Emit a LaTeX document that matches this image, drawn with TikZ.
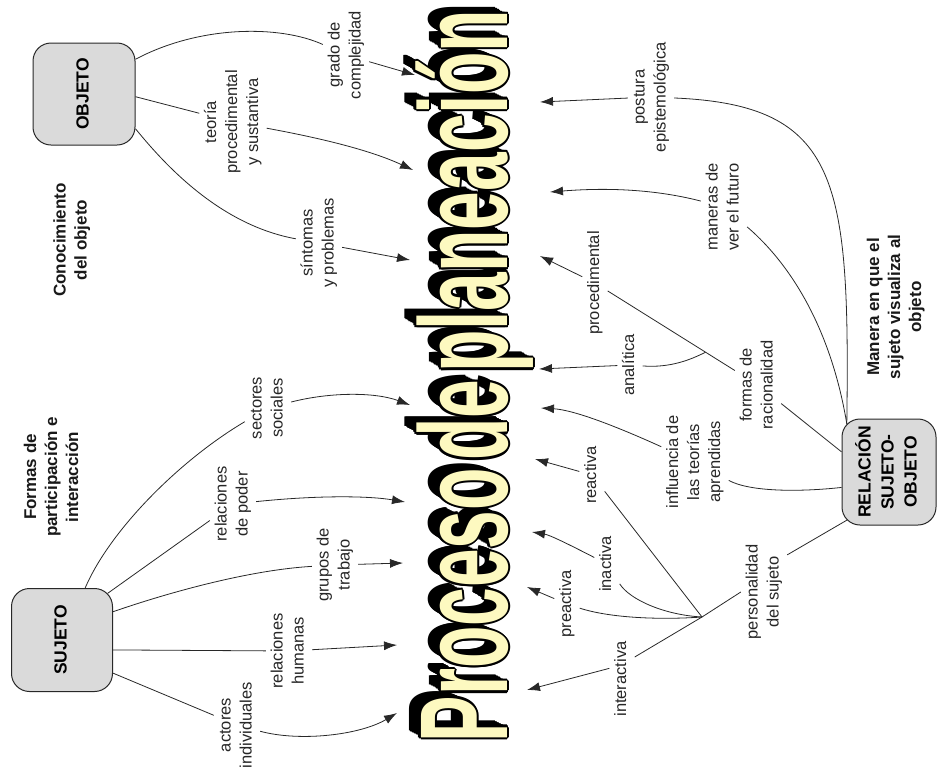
\documentclass[tikz,border=0pt]{standalone}
\usepackage{fontspec}
\setmainfont{Liberation Sans}
\usetikzlibrary{arrows.meta,calc}
\definecolor{boxgray}{RGB}{218,218,218}
\definecolor{ttlyellow}{RGB}{253,249,192}
\definecolor{ink}{RGB}{40,40,40}
\newcommand{\vlab}[1]{\rotatebox{90}{\begin{tabular}{@{}c@{}}#1\end{tabular}}}
\newcommand{\titletxt}{\fontsize{69.5}{69.5}\selectfont\bfseries\scalebox{1}[1.8]{Proceso\hspace{0.1em}de\hspace{0.1em}planeación}}
\begin{document}
\begin{tikzpicture}[x=1pt,y=-1pt,
  lbl/.style={inner sep=2pt, text=black!85, font=\fontsize{16.5}{21}\selectfont},
  ttl/.style={inner sep=2pt, text=black!90, font=\fontsize{17}{21}\selectfont\bfseries},
  cbox/.style={draw=ink, line width=1pt, fill=boxgray, rounded corners=18pt, inner sep=0pt, font=\fontsize{17.5}{23}\selectfont\bfseries},
  ln/.style={draw=ink, line width=0.8pt},
  arr/.style={ln, -{Latex[length=13pt,width=9pt]}},
  ttlnode/.style={rotate=90, anchor=base, inner sep=0pt}
]
\useasboundingbox (0,0) rectangle (938,780);

% ---- title with shadow and outline ----
\foreach \k in {1,...,12} {
  \node[ttlnode, text=black] at ($(507,376)+(-\k*1.0,-\k*0.55)$) {\titletxt};
}
\foreach \a in {0,45,...,315} {
  \node[ttlnode, text=black] at ($(507,376)+({2.2*cos(\a)},{2.2*sin(\a)})$) {\titletxt};
}
\node[ttlnode, text=ttlyellow] (title) at (507,376) {\titletxt};

% ---- boxes ----
\node[cbox, minimum width=102pt, minimum height=102pt] (objeto) at (84,94) {\vlab{OBJETO}};
\node[cbox, minimum width=101pt, minimum height=103pt] (sujeto) at (62,640) {\vlab{SUJETO}};
\node[cbox, minimum width=94pt, minimum height=106pt] (relacion) at (889,472) {\vlab{RELACIÓN\\SUJETO-\\OBJETO}};

% ---- headings ----
\node[ttl] (conoc) at (72,240) {\vlab{Conocimiento\\del objeto}};
\node[ttl] (formasp) at (53,477) {\vlab{Formas de\\participación e\\interacción}};
\node[ttl] (manera) at (896,307) {\vlab{Manera en que el\\sujeto visualiza al\\objeto}};

% ---- labels ----
\node[lbl] (grado) at (346,55) {\vlab{grado de\\complejidad}};
\node[lbl] (teoria) at (233,122) {\vlab{teoría\\procedimental\\y sustantiva}};
\node[lbl] (sintomas) at (319,243) {\vlab{síntomas\\y problemas}};
\node[lbl] (sectores) at (268,408) {\vlab{sectores\\sociales}};
\node[lbl] (poder) at (233,504) {\vlab{relaciones\\de poder}};
\node[lbl] (grupos) at (335,565) {\vlab{grupos de\\trabajo}};
\node[lbl] (humanas) at (289,651) {\vlab{relaciones\\humanas}};
\node[lbl] (actores) at (237,725) {\vlab{actores\\individuales}};
\node[lbl] (postura) at (651,97) {\vlab{postura\\epistemológica}};
\node[lbl] (maneras) at (724,207) {\vlab{maneras de\\ver el futuro}};
\node[lbl] (proced) at (595,283) {\vlab{procedimental}};
\node[lbl] (analitica) at (630,365) {\vlab{analítica}};
\node[lbl] (formas) at (758,385) {\vlab{formas de\\racionalidad}};
\node[lbl] (influencia) at (695,462) {\vlab{influencia de\\las teorías\\aprendidas}};
\node[lbl] (reactiva) at (592,475) {\vlab{reactiva}};
\node[lbl] (inactiva) at (607,564) {\vlab{inactiva}};
\node[lbl] (preactiva) at (567,604) {\vlab{preactiva}};
\node[lbl] (interactiva) at (622,679) {\vlab{interactiva}};
\node[lbl] (personalidad) at (764,592) {\vlab{personalidad\\del sujeto}};

% ---- arrow tips at the title ----
\coordinate (tgrado) at (415,75);
\coordinate (tteoria) at (413,170);
\coordinate (tsint) at (410,260);
\coordinate (tsect) at (410,405);
\coordinate (tpoder) at (405,502);
\coordinate (tgrupos) at (403,563);
\coordinate (thum) at (397,645);
\coordinate (tact) at (397,713);
\coordinate (tpost) at (540,102);
\coordinate (tman) at (550,192);
\coordinate (tproc) at (540,256);
\coordinate (tanal) at (539,369);
\coordinate (tinfl) at (541,408);
\coordinate (treac) at (535,459);
\coordinate (tinac) at (532,532);
\coordinate (tpre) at (527,587);
\coordinate (tinter) at (527,690);
\coordinate (jp) at (702,617);

% ---- OBJETO ----
\draw[ln] (objeto.34) .. controls (200,25) and (280,25) .. (grado);
\draw[arr] (grado) -- (tgrado);
\draw[ln] (objeto.-3) -- (teoria);
\draw[arr] (teoria) .. controls (320,138) and (370,150) .. (tteoria);
\draw[ln] (objeto.-34) .. controls (165,165) and (220,225) .. (sintomas);
\draw[arr] (sintomas) -- (tsint);

% ---- SUJETO ----
\draw[ln] (sujeto.66) .. controls (110,530) and (180,460) .. (sectores);
\draw[arr] (sectores) .. controls (330,392) and (375,392) .. (tsect);
\draw[ln] ($(sujeto.north east)+(-5.3,5.3)$) -- (poder);
\draw[arr] (poder) .. controls (320,495) and (370,496) .. (tpoder);
\draw[ln] (sujeto.29) .. controls (170,592) and (250,570) .. (grupos);
\draw[arr] (grupos) -- (tgrupos);
\draw[ln] (sujeto.-11) -- (humanas);
\draw[arr] (humanas) -- (thum);
\draw[ln] (sujeto.-33) -- (actores);
\draw[arr] (actores) .. controls (300,742) and (360,735) .. (tact);

% ---- RELACION ----
\draw[ln] ($(relacion.north west)+(5.3,5.3)$) .. controls (850,180) and (840,105) .. (postura);
\draw[arr] (postura) -- (tpost);
\draw[ln] ($(relacion.north west)+(5.3,5.3)$) .. controls (832,335) and (795,268) .. (maneras);
\draw[arr] (maneras) .. controls (650,188) and (600,188) .. (tman);
\draw[ln] (relacion.157) -- (formas);
\draw[ln] (formas) -- coordinate[pos=0.23] (jf) (proced);
\draw[ln] (analitica) .. controls (670,368) and (690,360) .. (jf);
\draw[arr] (proced) -- (tproc);
\draw[arr] (analitica) -- (tanal);
\draw[ln] (relacion.198) .. controls (800,492) and (750,492) .. (influencia);
\draw[arr] (influencia) .. controls (620,428) and (575,410) .. (tinfl);
\draw[ln] ($(relacion.south west)+(5.3,-5.3)$) -- (personalidad.58);
\draw[ln] (personalidad.west) -- (jp);
\draw[ln] (jp) -- (reactiva);
\draw[ln] (jp) .. controls (665,615) and (630,600) .. (inactiva);
\draw[ln] (jp) .. controls (660,620) and (610,618) .. (preactiva);
\draw[ln] (jp) -- (interactiva.60);
\draw[arr] (reactiva) -- (treac);
\draw[arr] (inactiva) .. controls (570,545) and (550,535) .. (tinac);
\draw[arr] (preactiva) -- (tpre);
\draw[arr] (interactiva.140) -- (tinter);
\end{tikzpicture}
\end{document}
